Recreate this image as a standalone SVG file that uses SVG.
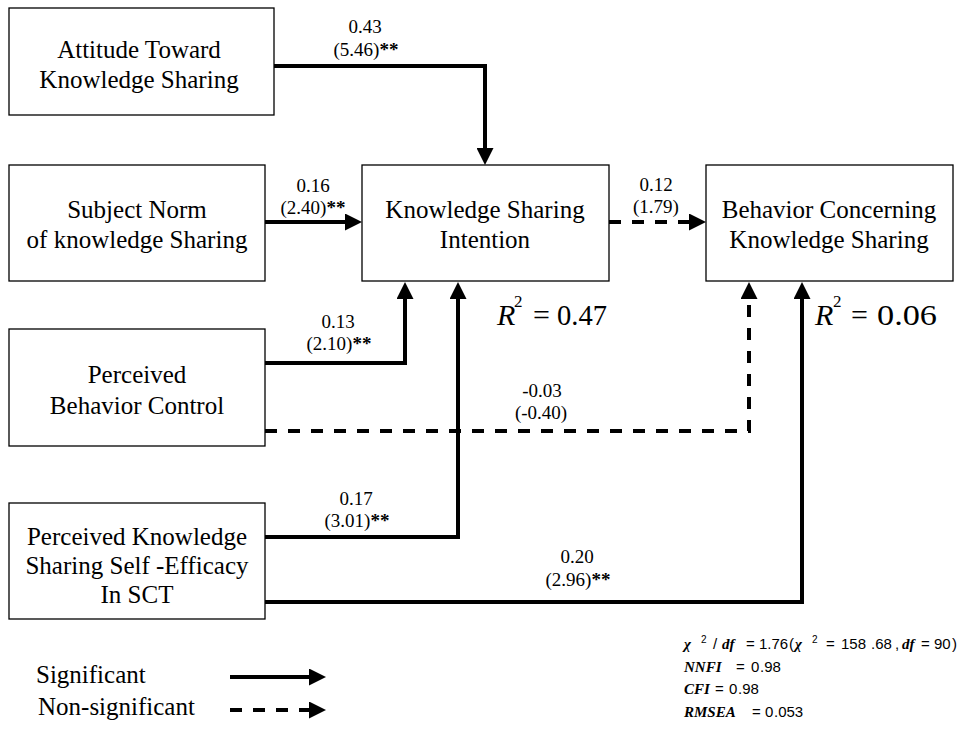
<svg xmlns="http://www.w3.org/2000/svg" width="958" height="732" viewBox="0 0 958 732">
<defs>
<style>
text{font-family:'Liberation Serif','Tinos','Nimbus Roman','Nimbus Roman No9 L','FreeSerif','Noto Serif','DejaVu Serif','Times New Roman',Times,serif}
.box{fill:#fff;stroke:#000;stroke-width:1.3}
.bt{font-size:25px;text-anchor:middle;fill:#000}
.lb{font-size:19px;text-anchor:middle;fill:#000}
.st{font-weight:bold}
.c{fill:none;stroke:#000;stroke-width:4}
.d{stroke-dasharray:12,11}
.r2{font-size:30px;fill:#000}
.sup{font-size:17px}
.fit{font-size:15px;font-weight:bold;font-style:italic;fill:#000}
.num{font-family:'Liberation Sans',Arial,sans-serif;font-size:15px;font-style:normal;font-weight:normal}
.sm{font-size:10px}
</style>
<marker id="ah" markerUnits="userSpaceOnUse" markerWidth="17" markerHeight="17" refX="9" refY="8.5" orient="auto" viewBox="0 0 17 17">
<path d="M0,0 L17,8.5 L0,17 Z" fill="#000"/>
</marker>
</defs>
<rect width="958" height="732" fill="#fff"/>

<g id="connectors">
<path class="c" d="M274,66 H485 V157" marker-end="url(#ah)"/>
<path class="c" d="M265,222 H354" marker-end="url(#ah)"/>
<path class="c" d="M265,363 H405 V290" marker-end="url(#ah)"/>
<path class="c" d="M265,537 H458 V290" marker-end="url(#ah)"/>
<path class="c d" d="M265,431 H749 V290" marker-end="url(#ah)"/>
<path class="c" d="M265,602 H802 V290" marker-end="url(#ah)"/>
<path class="c d" d="M609,222 H698" marker-end="url(#ah)"/>
</g>

<g id="attitude">
<rect class="box" x="9" y="8" width="265" height="107"/>
<text class="bt" x="139" y="58">Attitude Toward</text>
<text class="bt" x="139" y="88">Knowledge Sharing</text>
</g>
<g id="subject-norm">
<rect class="box" x="9" y="165" width="256" height="116"/>
<text class="bt" x="137" y="218">Subject Norm</text>
<text class="bt" x="137" y="248">of knowledge Sharing</text>
</g>
<g id="intention">
<rect class="box" x="362" y="165" width="247" height="116"/>
<text class="bt" x="485" y="218">Knowledge Sharing</text>
<text class="bt" x="485" y="248">Intention</text>
</g>
<g id="behavior">
<rect class="box" x="706" y="165" width="247" height="116"/>
<text class="bt" x="829" y="218">Behavior Concerning</text>
<text class="bt" x="829" y="248">Knowledge Sharing</text>
</g>
<g id="pbc">
<rect class="box" x="9" y="329" width="256" height="117"/>
<text class="bt" x="137" y="383">Perceived</text>
<text class="bt" x="137" y="414">Behavior Control</text>
</g>
<g id="pkse">
<rect class="box" x="9" y="503" width="256" height="116"/>
<text class="bt" x="137" y="545">Perceived Knowledge</text>
<text class="bt" x="137" y="574">Sharing Self -Efficacy</text>
<text class="bt" x="137" y="603">In SCT</text>
</g>

<g id="labels">
<text class="lb" x="365" y="33">0.43</text>
<text class="lb" x="366" y="56">(5.46)<tspan class="st">**</tspan></text>
<text class="lb" x="313" y="192">0.16</text>
<text class="lb" x="313" y="214">(2.40)<tspan class="st">**</tspan></text>
<text class="lb" x="656" y="191">0.12</text>
<text class="lb" x="656" y="213">(1.79)</text>
<text class="lb" x="338" y="328">0.13</text>
<text class="lb" x="339" y="350">(2.10)<tspan class="st">**</tspan></text>
<text class="lb" x="542" y="397">-0.03</text>
<text class="lb" x="541" y="419">(-0.40)</text>
<text class="lb" x="356" y="505">0.17</text>
<text class="lb" x="357" y="527">(3.01)<tspan class="st">**</tspan></text>
<text class="lb" x="577" y="563">0.20</text>
<text class="lb" x="578" y="586">(2.96)<tspan class="st">**</tspan></text>
</g>

<g id="r2">
<text class="r2" x="497" y="325" font-style="italic">R</text>
<text class="r2 sup" x="514" y="307">2</text>
<text class="r2" x="533" y="325">=</text>
<text class="r2" x="557" y="325" textLength="50" lengthAdjust="spacingAndGlyphs">0.47</text>
<text class="r2" x="815" y="325" font-style="italic">R</text>
<text class="r2 sup" x="833" y="307">2</text>
<text class="r2" x="851" y="325">=</text>
<text class="r2" x="877" y="325" textLength="60" lengthAdjust="spacingAndGlyphs">0.06</text>
</g>

<g id="fit">
<text class="fit" y="649"><tspan x="684">χ</tspan><tspan x="701" y="643" class="num sm">2</tspan><tspan x="713" y="649" class="num">/</tspan><tspan x="722">df</tspan><tspan x="746" class="num">=</tspan><tspan x="759" class="num">1.76</tspan><tspan x="789" class="num">(</tspan><tspan x="795">χ</tspan><tspan x="812" y="643" class="num sm">2</tspan><tspan x="826" y="649" class="num">=</tspan><tspan x="841" class="num">158</tspan><tspan x="871" class="num">.68</tspan><tspan x="895" class="num">,</tspan><tspan x="902">df</tspan><tspan x="921" class="num">=</tspan><tspan x="934" class="num">90</tspan><tspan x="952" class="num">)</tspan></text>
<text class="fit" y="672"><tspan x="684">NNFI</tspan><tspan x="736" class="num">=</tspan><tspan x="751" class="num">0</tspan><tspan x="760" class="num">.98</tspan></text>
<text class="fit" y="694"><tspan x="684">CFI</tspan><tspan x="715" class="num">=</tspan><tspan x="729" class="num">0</tspan><tspan x="738" class="num">.98</tspan></text>
<text class="fit" y="717"><tspan x="684">RMSEA</tspan><tspan x="752" class="num">=</tspan><tspan x="765" class="num">0</tspan><tspan x="774" class="num">.053</tspan></text>
</g>

<g id="legend">
<text class="bt" x="36" y="683" style="text-anchor:start">Significant</text>
<text class="bt" x="38" y="715" style="text-anchor:start">Non-significant</text>
<path class="c" d="M230,677 H318" marker-end="url(#ah)"/>
<path class="c d" d="M230,710 H318" marker-end="url(#ah)"/>
</g>
</svg>
